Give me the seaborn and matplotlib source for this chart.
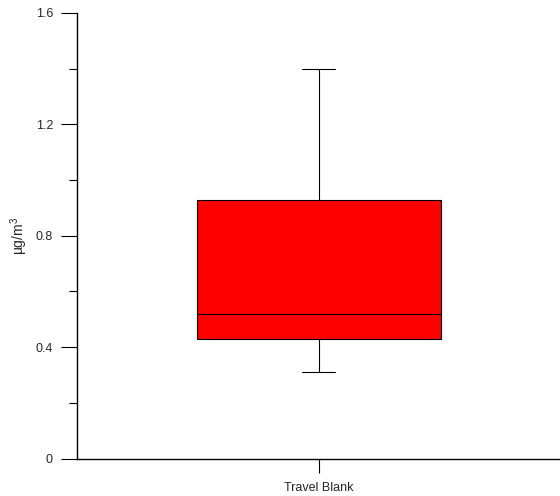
import matplotlib
matplotlib.use("Agg")
import matplotlib.pyplot as plt
import seaborn as sns
import pandas as pd
from matplotlib.ticker import MultipleLocator

# Data (five-number summary)
category = ["Travel Blank"] * 5
values = [0.31, 0.43, 0.52, 0.93, 1.40]
y_ticks = [0, 0.4, 0.8, 1.2, 1.6]
y_tick_labels = ["0", "0.4", "0.8", "1.2", "1.6"]

df = pd.DataFrame({"group": category, "value": values})

sns.set_style("ticks")
plt.rcParams["font.family"] = ["Liberation Sans", "DejaVu Sans"]
plt.rcParams["mathtext.fontset"] = "custom"
plt.rcParams["mathtext.rm"] = "Liberation Sans"

fig = plt.figure(figsize=(5.6, 4.96), dpi=100)
ax = fig.add_axes([0.138, 0.0752, 0.862, 0.899])

sns.boxplot(data=df, x="group", y="value", ax=ax, width=0.505, whis=1.5,
            color="#ff0000", saturation=1, linecolor="black", linewidth=0.8,
            showfliers=False)
# adjust cap width
for line in ax.lines:
    xd = line.get_xdata()
    yd = line.get_ydata()
    if len(xd) == 2 and yd[0] == yd[1] and abs(xd[1] - xd[0]) < 0.45:
        c = (xd[0] + xd[1]) / 2
        line.set_xdata([c - 0.034, c + 0.034])

ax.set_xlim(-0.5, 0.5)
ax.set_ylim(0, 1.6)
ax.set_yticks(y_ticks)
ax.set_yticklabels(y_tick_labels)
ax.yaxis.set_minor_locator(MultipleLocator(0.2))
ax.tick_params(axis="both", which="major", length=11.5, width=0.8, pad=6,
               labelsize=9, color="black")
ax.tick_params(axis="y", which="minor", length=5.8, width=0.8, color="black")
ax.tick_params(axis="x", which="major", length=10, pad=7)
ax.set_xlabel("")
ax.set_ylabel("\u00b5g/m$^3$", fontsize=10, labelpad=4)
for s in ["top", "right"]:
    ax.spines[s].set_visible(False)
for s in ["left", "bottom"]:
    ax.spines[s].set_linewidth(1.0)
    ax.spines[s].set_color("black")

fig.savefig("out.png", dpi=100)
